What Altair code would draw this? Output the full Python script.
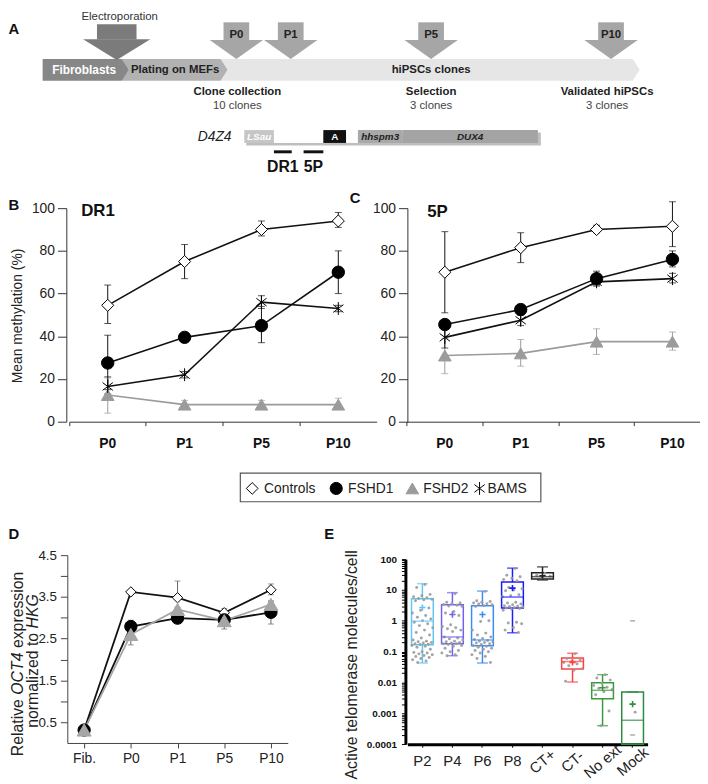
import altair as alt
import pandas as pd

FONT = "Liberation Sans"
W, H = 700, 776

# ---------------- Panel A (schematic) ----------------
stage_names = ["Fibroblasts", "Plating on MEFs", "hiPSCs clones"]
stage_start = [43, 123, 223]
stage_end = [123, 223, 640]
stage_colors = ["#878787", "#b2b2b2", "#e6e6e6"]
stage_text_colors = ["#ffffff", "#222222", "#222222"]
stage_text_x = [85, 177, 436]

passage_names = ["P0", "P1", "P5", "P10"]
passage_arrow_x = [239, 294, 436, 618]
milestone_names = ["Clone collection", "Selection", "Validated hiPSCs"]
milestone_counts = ["10 clones", "3 clones", "3 clones"]
milestone_x = [240, 436, 614]

gene_labels = ["LSau", "", "A", "", "hhspm3", "DUX4"]
gene_start = [247, 277, 327, 350, 362, 407]
gene_end = [277, 327, 350, 362, 407, 544]
gene_colors = ["#c6c6c6", "#ffffff", "#111111", "#ffffff", "#a9a9a9", "#a4a4a4"]
probe_names = ["DR1", "5P"]
probe_start = [277, 307]
probe_end = [295, 327]

# ---------------- Panels B / C : methylation ----------------
passages = ["P0", "P1", "P5", "P10"]
series = ["Controls", "FSHD1", "FSHD2", "BAMS"]

dr1_controls = [54.5, 75.0, 90.0, 94.0]
dr1_controls_lo = [46.0, 67.0, 87.0, 91.0]
dr1_controls_hi = [64.0, 83.0, 94.0, 98.0]
dr1_fshd1 = [27.5, 39.5, 45.0, 70.0]
dr1_fshd1_lo = [15.0, 38.5, 37.0, 60.0]
dr1_fshd1_hi = [40.5, 40.5, 54.0, 80.0]
dr1_fshd2 = [12.5, 8.0, 8.0, 8.0]
dr1_fshd2_lo = [4.0, 6.5, 6.5, 6.5]
dr1_fshd2_hi = [20.5, 10.0, 10.0, 11.0]
dr1_bams = [16.5, 22.0, 56.0, 53.0]
dr1_bams_lo = [13.0, 20.5, 53.0, 51.5]
dr1_bams_hi = [21.0, 23.5, 59.0, 54.5]

p5_controls = [70.0, 81.5, 90.0, 91.5]
p5_controls_lo = [51.0, 74.5, 88.5, 82.0]
p5_controls_hi = [89.0, 88.5, 92.0, 103.0]
p5_fshd1 = [45.5, 52.5, 67.0, 76.0]
p5_fshd1_lo = [44.0, 50.0, 63.5, 72.5]
p5_fshd1_hi = [47.0, 55.0, 70.5, 80.0]
p5_fshd2 = [31.0, 32.0, 37.5, 37.5]
p5_fshd2_lo = [22.5, 26.0, 31.5, 33.5]
p5_fshd2_hi = [39.0, 38.5, 43.5, 42.0]
p5_bams = [39.5, 47.5, 65.5, 67.0]
p5_bams_lo = [34.5, 45.0, 64.0, 65.0]
p5_bams_hi = [44.0, 50.0, 68.0, 69.5]

# ---------------- Panel D : OCT4 expression ----------------
stages = ["Fib.", "P0", "P1", "P5", "P10"]
d_series = ["Controls", "FSHD1", "FSHD2"]
oct_controls = [0.31, 3.62, 3.48, 3.12, 3.67]
oct_controls_lo = [0.31, 3.62, 3.48, 3.05, 3.55]
oct_controls_hi = [0.31, 3.62, 3.88, 3.22, 3.81]
oct_fshd1 = [0.31, 2.79, 2.99, 2.95, 3.13]
oct_fshd1_lo = [0.31, 2.65, 2.99, 2.80, 2.85]
oct_fshd1_hi = [0.31, 2.94, 2.99, 3.10, 3.40]
oct_fshd2 = [0.31, 2.60, 3.20, 2.93, 3.32]
oct_fshd2_lo = [0.31, 2.35, 3.10, 2.73, 3.20]
oct_fshd2_hi = [0.31, 2.75, 3.25, 3.10, 3.40]

# ---------------- Panel E : telomerase ----------------
groups = ["P2", "P4", "P6", "P8", "CT+", "CT-", "No ext", "Mock"]
group_colors = ["#62c6f7", "#6f62ee", "#3b8cf5", "#1a1aff", "#222222", "#ff4040", "#3a9a3a", "#2e8b3e"]
e_min = [0.043, 0.074, 0.043, 0.41, 21.0, 0.0104, 0.0004, 0.0001]
e_q1 = [0.167, 0.18, 0.155, 2.6, 22.5, 0.0276, 0.003, 0.0001]
e_med = [0.98, 0.30, 0.24, 5.9, 27.0, 0.048, 0.0056, 0.0006]
e_q3 = [5.2, 3.3, 3.1, 18.0, 36.0, 0.062, 0.0098, 0.0049]
e_max = [16.0, 8.2, 9.2, 51.0, 56.0, 0.089, 0.018, 0.0049]
e_mean = [2.7, 1.6, 1.6, 11.5, 29.0, 0.045, 0.0068, 0.002]

dots_p2 = [15, 12, 7.2, 6.5, 6, 5.6, 5.3, 5, 4.8, 4.5, 2.6, 2.2, 1.8, 1.5, 1.3, 1.15, 1.0, 0.9, 0.8,
           0.7, 0.6, 0.5, 0.42, 0.35, 0.28, 0.24, 0.22, 0.21, 0.2, 0.19, 0.18, 0.175, 0.17, 0.16,
           0.15, 0.14, 0.12, 0.1, 0.095, 0.09, 0.085, 0.08, 0.075, 0.07, 0.065, 0.06, 0.055, 0.05, 0.045]
dots_p4 = [7.6, 4, 3.8, 3.6, 3.4, 3.2, 3.0, 2.9, 2.0, 1.8, 1.5, 0.75, 0.65, 0.6, 0.55, 0.5, 0.45,
           0.3, 0.28, 0.26, 0.24, 0.22, 0.21, 0.2, 0.19, 0.18, 0.18, 0.17, 0.16, 0.15, 0.13, 0.11,
           0.1, 0.09, 0.08, 0.074]
dots_p6 = [9, 4.5, 4.2, 4, 3.8, 3.6, 3.5, 3.3, 3.1, 2.9, 1.0, 0.95, 0.5, 0.4, 0.35, 0.3, 0.27, 0.25,
           0.23, 0.22, 0.21, 0.2, 0.19, 0.18, 0.17, 0.16, 0.15, 0.14, 0.13, 0.12, 0.11, 0.1, 0.09,
           0.08, 0.07, 0.06, 0.045]
dots_p8 = [50, 30, 27, 24, 22, 20, 12, 11, 10, 9.5, 7, 6.5, 6, 4, 3.8, 3.5, 3.3, 3.1, 3.0, 2.9, 2.8,
           2.7, 2.6, 2.5, 2.4, 2.2, 0.9, 0.85, 0.8, 0.6, 0.5, 0.42]
dots_ctp = [35, 30, 28, 25]
dots_ctm = [0.085, 0.06, 0.055, 0.05, 0.045, 0.04, 0.035, 0.028, 0.025, 0.011]
dots_noext = [0.018, 0.014, 0.012, 0.0095, 0.008, 0.007, 0.0065, 0.006, 0.005, 0.004, 0.0012, 0.0004]
dots_mock = [0.0011]
mock_outliers = [1.0, 0.0002]

ASTERISK = "M-0.8,-0.6L0.8,0.6M-0.8,0.6L0.8,-0.6M0,-1L0,1"
PLUS = "M-1,0L1,0M0,-1L0,1"

series_shapes = ["diamond", "circle", "triangle-up", ASTERISK]
series_fill = ["#ffffff", "#000000", "#9b9b9b", "#000000"]
series_stroke = ["#000000", "#000000", "#9b9b9b", "#000000"]
series_size = [150, 170, 210, 150]
series_line_w = [1.6, 1.6, 1.6, 2.4]
series_line_color = ["#111111", "#111111", "#9b9b9b", "#111111"]

# canvas scales (reference pixel frame) for the schematic and annotations
CX = alt.Scale(domain=[0, 708], range=[-8, 700])
CY = alt.Scale(domain=[0, 784], range=[-8, 776])


def cx(f="x"):
    return alt.X(f"{f}:Q", scale=CX, axis=None)


def cy(f="y"):
    return alt.Y(f"{f}:Q", scale=CY, axis=None, stack=None)


def texts(rows, size, weight="normal", style="normal", color="#222222",
          align="center", baseline="middle", angle=None):
    df = pd.DataFrame(rows, columns=["x", "y", "t"])
    kw = dict(font=FONT, fontSize=size, fontWeight=weight, fontStyle=style,
              color=color, align=align, baseline=baseline)
    if angle is not None:
        kw["angle"] = angle
    return alt.Chart(df).mark_text(**kw).encode(x=cx(), y=cy(), text="t:N")


def arrows(centers, names, shaft_half, shaft_top, head_top, head_half, tip, color):
    shaft = pd.DataFrame({"x0": [c - shaft_half for c in centers],
                          "x1": [c + shaft_half for c in centers],
                          "y0": [shaft_top] * len(centers),
                          "y1": [head_top + 0.5] * len(centers)})
    rows = []
    for n, c in zip(names, centers):
        rows += [{"k": n, "x": c - head_half, "y": head_top, "y2": head_top},
                 {"k": n, "x": c, "y": head_top, "y2": tip},
                 {"k": n, "x": c + head_half, "y": head_top, "y2": head_top}]
    head = pd.DataFrame(rows)
    return [
        alt.Chart(shaft).mark_rect(color=color).encode(x=cx("x0"), x2="x1:Q", y=cy("y0"), y2="y1:Q"),
        alt.Chart(head).mark_area(color=color, interpolate="linear").encode(
            x=cx(), y=cy(), y2="y2:Q", detail="k:N"),
    ]


layers = []

# ---- Panel A ----
for i in [2, 1, 0]:
    x0, x1 = stage_start[i], stage_end[i]
    df = pd.DataFrame({"x": [x0, x1, x1 + 7], "y": [55, 55, 66], "y2": [77, 77, 66]})
    layers.append(alt.Chart(df).mark_area(color=stage_colors[i], interpolate="linear").encode(
        x=cx(), y=cy(), y2="y2:Q"))
layers += arrows([118], ["electro"], 20, 20, 35, 34, 56, "#7b7b7b")
layers += arrows(passage_arrow_x, passage_names, 13, 18, 36, 27, 55, "#a6a6a6")

layers.append(texts([(121, 13, "Electroporation")], 11.5, color="#333333"))
layers.append(texts([(x, 31, n) for x, n in zip(passage_arrow_x, passage_names)], 11.5, "bold"))
for i in range(3):
    layers.append(texts([(stage_text_x[i], 66.5, stage_names[i])], 12 if i == 0 else 11.5,
                        "bold", color=stage_text_colors[i]))
layers.append(texts([(x, 89, n) for x, n in zip(milestone_x, milestone_names)], 11.5, "bold"))
layers.append(texts([(x, 103, n) for x, n in zip(milestone_x, milestone_counts)], 11.5, color="#444444"))

# gene map
shadow = pd.DataFrame({"x0": [gene_start[0] + 2], "x1": [gene_end[-1] + 3], "y0": [129.5], "y1": [142.5]})
layers.append(alt.Chart(shadow).mark_rect(color="#8a8a8a", opacity=0.55).encode(
    x=cx("x0"), x2="x1:Q", y=cy("y0"), y2="y1:Q"))
gene_df = pd.DataFrame({"x0": gene_start, "x1": gene_end, "c": gene_colors,
                        "y0": [127] * len(gene_start), "y1": [140] * len(gene_start)})
layers.append(alt.Chart(gene_df).mark_rect().encode(
    x=cx("x0"), x2="x1:Q", y=cy("y0"), y2="y1:Q", color=alt.Color("c:N", scale=None)))
layers.append(texts([(217, 134, "D4Z4")], 14, style="italic"))
layers.append(texts([((gene_start[0] + gene_end[0]) / 2, 134, gene_labels[0])], 10, "bold", "italic", "#ffffff"))
layers.append(texts([((gene_start[2] + gene_end[2]) / 2, 134, gene_labels[2])], 10, "bold", color="#ffffff"))
layers.append(texts([((gene_start[4] + gene_end[4]) / 2, 134, gene_labels[4]),
                     ((gene_start[5] + gene_end[5]) / 2, 134, gene_labels[5])], 10, "bold", "italic"))
probe_df = pd.DataFrame({"x0": probe_start, "x1": probe_end, "y0": [147.5, 147.5], "y1": [150.5, 150.5]})
layers.append(alt.Chart(probe_df).mark_rect(color="#111111").encode(
    x=cx("x0"), x2="x1:Q", y=cy("y0"), y2="y1:Q"))
layers.append(texts([((s + e) / 2, 164, n) for s, e, n in zip(probe_start, probe_end, probe_names)],
                    16, "bold", color="#111111"))


# ---- Panels B / C ----
def meth_layers(vals, lo, hi, x_range, y_axis_x):
    rows = []
    for s in series:
        for i, p in enumerate(passages):
            rows.append({"series": s, "passage": p, "v": vals[s][i], "lo": lo[s][i], "hi": hi[s][i]})
    df = pd.DataFrame(rows)
    xs = alt.Scale(type="band", domain=passages, range=x_range, paddingInner=0, paddingOuter=0)
    ys = alt.Scale(domain=[0, 100], range=[414, 198], nice=False)
    ax_y = alt.Axis(orient="left", offset=-y_axis_x, values=[0, 20, 40, 60, 80, 100], tickSize=9,
                    tickColor="#333333", domainColor="#333333", labelFontSize=14, labelColor="#222222",
                    labelPadding=3, title=None, grid=False, labelFont=FONT)
    ax_xt = alt.Axis(orient="bottom", offset=414 - H, bandPosition=0, labels=False, tickSize=4,
                     tickColor="#333333", domainColor="#333333", title=None, grid=False)
    ax_xl = alt.Axis(orient="bottom", offset=414 - H, ticks=False, domain=False, labelAngle=0,
                     labelFontWeight="bold", labelFontSize=14, labelPadding=15, labelColor="#111111",
                     title=None, grid=False, labelFont=FONT)
    stroke_sc = alt.Scale(domain=series, range=series_line_color)
    base = alt.Chart(df)
    rules = base.mark_rule(strokeWidth=1).encode(
        x=alt.X("passage:N", scale=xs, axis=ax_xt),
        y=alt.Y("lo:Q", scale=ys, axis=ax_y), y2="hi:Q",
        color=alt.Color("series:N", scale=stroke_sc, legend=None))
    caps = base.transform_fold(["lo", "hi"], as_=["k", "e"]).mark_tick(size=7, thickness=1).encode(
        x=alt.X("passage:N", scale=xs, axis=None),
        y=alt.Y("e:Q", scale=ys, axis=None),
        color=alt.Color("series:N", scale=stroke_sc, legend=None))
    lines = base.mark_line().encode(
        x=alt.X("passage:N", scale=xs, axis=None),
        y=alt.Y("v:Q", scale=ys, axis=None),
        color=alt.Color("series:N", scale=stroke_sc, legend=None),
        strokeWidth=alt.StrokeWidth("series:N", scale=alt.Scale(domain=series, range=series_line_w), legend=None))
    pts = base.mark_point(filled=True, opacity=1, strokeWidth=1).encode(
        x=alt.X("passage:N", scale=xs, axis=ax_xl),
        y=alt.Y("v:Q", scale=ys, axis=None),
        shape=alt.Shape("series:N", scale=alt.Scale(domain=series, range=series_shapes), legend=None),
        fill=alt.Fill("series:N", scale=alt.Scale(domain=series, range=series_fill), legend=None),
        stroke=alt.Stroke("series:N", scale=alt.Scale(domain=series, range=series_stroke), legend=None),
        size=alt.Size("series:N", scale=alt.Scale(domain=series, range=series_size), legend=None))
    return [rules, caps, lines, pts]


dr1_vals = {"Controls": dr1_controls, "FSHD1": dr1_fshd1, "FSHD2": dr1_fshd2, "BAMS": dr1_bams}
dr1_lo = {"Controls": dr1_controls_lo, "FSHD1": dr1_fshd1_lo, "FSHD2": dr1_fshd2_lo, "BAMS": dr1_bams_lo}
dr1_hi = {"Controls": dr1_controls_hi, "FSHD1": dr1_fshd1_hi, "FSHD2": dr1_fshd2_hi, "BAMS": dr1_bams_hi}
p5_vals = {"Controls": p5_controls, "FSHD1": p5_fshd1, "FSHD2": p5_fshd2, "BAMS": p5_bams}
p5_lo = {"Controls": p5_controls_lo, "FSHD1": p5_fshd1_lo, "FSHD2": p5_fshd2_lo, "BAMS": p5_bams_lo}
p5_hi = {"Controls": p5_controls_hi, "FSHD1": p5_fshd1_hi, "FSHD2": p5_fshd2_hi, "BAMS": p5_bams_hi}

layers += meth_layers(dr1_vals, dr1_lo, dr1_hi, [62, 373], 59)
layers += meth_layers(p5_vals, p5_lo, p5_hi, [403.5, 710.5], 404)
layers.append(texts([(82, 209, "DR1")], 17, "bold", color="#111111", align="left"))
layers.append(texts([(432, 210, "5P")], 17, "bold", color="#111111", align="left"))
layers.append(texts([(18, 315, "Mean methylation (%)")], 14, angle=270))

# legend
box = pd.DataFrame({"x0": [243], "x1": [547], "y0": [474], "y1": [503]})
layers.append(alt.Chart(box).mark_rect(fill="#ffffff", stroke="#555555", strokeWidth=1.2).encode(
    x=cx("x0"), x2="x1:Q", y=cy("y0"), y2="y1:Q"))
leg_marker_x = [255, 340, 417, 485]
leg_text_x = [267, 352, 428, 493]
leg_df = pd.DataFrame({"series": series, "x": leg_marker_x, "y": [489.5] * 4})
layers.append(alt.Chart(leg_df).mark_point(filled=True, opacity=1, strokeWidth=1).encode(
    x=cx(), y=cy(),
    shape=alt.Shape("series:N", scale=alt.Scale(domain=series, range=series_shapes), legend=None),
    fill=alt.Fill("series:N", scale=alt.Scale(domain=series, range=series_fill), legend=None),
    stroke=alt.Stroke("series:N", scale=alt.Scale(domain=series, range=series_stroke), legend=None),
    size=alt.Size("series:N", scale=alt.Scale(domain=series, range=[140, 170, 230, 45]), legend=None)))
layers.append(texts([(x, 490, s) for x, s in zip(leg_text_x, series)], 14, align="left", color="#222222"))


# ---- Panel D ----
def oct_layers():
    vals = {"Controls": oct_controls, "FSHD1": oct_fshd1, "FSHD2": oct_fshd2}
    lo = {"Controls": oct_controls_lo, "FSHD1": oct_fshd1_lo, "FSHD2": oct_fshd2_lo}
    hi = {"Controls": oct_controls_hi, "FSHD1": oct_fshd1_hi, "FSHD2": oct_fshd2_hi}
    rows = []
    for s in d_series:
        for i, st in enumerate(stages):
            rows.append({"series": s, "stage": st, "v": vals[s][i], "lo": lo[s][i], "hi": hi[s][i]})
    df = pd.DataFrame(rows)
    xs = alt.Scale(type="point", domain=stages, range=[60, 283], padding=0.36)
    ys = alt.Scale(domain=[0, 4.5], range=[739, 549], nice=False)
    ax_y = alt.Axis(orient="left", offset=-60, values=[0.5, 1, 1.5, 2, 2.5, 3, 3.5, 4, 4.5],
                    labelExpr="datum.value % 1 == 0 ? '' : format(datum.value, '.1f')",
                    tickSize=7, tickColor="#444444", domainColor="#444444", labelFontSize=13.5,
                    labelColor="#222222", labelPadding=4, labelOverlap=False, title=None, grid=False,
                    labelFont=FONT)
    ax_x = alt.Axis(orient="bottom", offset=739 - H, tickSize=5, tickColor="#444444",
                    domainColor="#444444", labelFontSize=14, labelColor="#222222", labelPadding=4,
                    labelAngle=0, title=None, grid=False, labelFont=FONT)
    col = alt.Scale(domain=d_series, range=["#111111", "#111111", "#a6a6a6"])
    base = alt.Chart(df)
    rules = base.mark_rule(strokeWidth=1, color="#666666").encode(
        x=alt.X("stage:N", scale=xs, axis=ax_x),
        y=alt.Y("lo:Q", scale=ys, axis=ax_y), y2="hi:Q")
    caps = base.transform_fold(["lo", "hi"], as_=["k", "e"]).mark_tick(size=6, thickness=1, color="#666666").encode(
        x=alt.X("stage:N", scale=xs, axis=None), y=alt.Y("e:Q", scale=ys, axis=None))
    lines = base.mark_line().encode(
        x=alt.X("stage:N", scale=xs, axis=None), y=alt.Y("v:Q", scale=ys, axis=None),
        color=alt.Color("series:N", scale=col, legend=None),
        strokeWidth=alt.StrokeWidth("series:N", scale=alt.Scale(domain=d_series, range=[1.8, 1.8, 2.6]), legend=None))
    pts = base.mark_point(filled=True, opacity=1, strokeWidth=1).encode(
        x=alt.X("stage:N", scale=xs, axis=None), y=alt.Y("v:Q", scale=ys, axis=None),
        shape=alt.Shape("series:N", scale=alt.Scale(domain=d_series, range=["diamond", "circle", "triangle-up"]), legend=None),
        fill=alt.Fill("series:N", scale=alt.Scale(domain=d_series, range=["#ffffff", "#000000", "#a6a6a6"]), legend=None),
        stroke=alt.Stroke("series:N", scale=alt.Scale(domain=d_series, range=["#000000", "#000000", "#a6a6a6"]), legend=None),
        size=alt.Size("series:N", scale=alt.Scale(domain=d_series, range=[110, 200, 110]), legend=None))
    return [rules, caps, lines, pts]


layers += oct_layers()

# D y title with italic gene names (two rotated lines)
CW = {" ": 278, "R": 722, "e": 556, "l": 222, "a": 556, "t": 278, "i": 222, "v": 500, "O": 778,
      "C": 722, "T": 611, "4": 556, "x": 500, "p": 556, "r": 333, "s": 500, "o": 556, "n": 556,
      "m": 833, "z": 500, "d": 556, "H": 722, "K": 667, "G": 778}


def rich_vertical(pieces, x, yc, size):
    total = sum(CW.get(ch, 556) for t, _ in pieces for ch in t) * size / 1000
    y = yc + total / 2
    out = []
    for t, it in pieces:
        w = sum(CW.get(ch, 556) for ch in t) * size / 1000
        if t.strip():
            out.append(texts([(x, y, t)], size, style="italic" if it else "normal",
                             align="left", angle=270, color="#222222"))
        y -= w
    return out


layers += rich_vertical([("Relative", False), (" ", False), ("OCT4", True), (" ", False),
                         ("expression", False)], 18, 667, 16)
layers += rich_vertical([("normalized to", False), (" ", False), ("HKG", True)], 33, 664, 16)


# ---- Panel E ----
def telo_layers():
    st = pd.DataFrame({"grp": groups, "mn": e_min, "q1": e_q1, "med": e_med, "q3": e_q3,
                       "mx": e_max, "mean": e_mean})
    dot_lists = [dots_p2, dots_p4, dots_p6, dots_p8, dots_ctp, dots_ctm, dots_noext, dots_mock]
    drows = [{"grp": g, "v": v} for g, lst in zip(groups, dot_lists) for v in lst]
    dots = pd.DataFrame(drows)
    outl = pd.DataFrame({"grp": ["Mock"] * len(mock_outliers), "v": mock_outliers})
    xs = alt.Scale(type="band", domain=groups, range=[404, 647], paddingInner=0, paddingOuter=0)
    ys = alt.Scale(type="log", domain=[0.0001, 100], range=[740.3, 553], nice=False)
    col = alt.Scale(domain=groups, range=group_colors)
    yticks = [m * 10.0 ** e for e in range(-4, 2) for m in range(1, 10)] + [100.0]
    ax_y = alt.Axis(orient="left", offset=-402, values=yticks,
                    labelExpr="abs(log(datum.value)/LN10 - round(log(datum.value)/LN10)) < 0.001 ? format(datum.value, '~g') : ''",
                    tickSize=4, tickColor="#000000", domainColor="#000000", domainWidth=3,
                    labelFontSize=10, labelFontWeight="bold", labelColor="#111111", labelPadding=5,
                    labelOverlap=False, title=None, grid=False, labelFont=FONT)
    ax_x1 = alt.Axis(orient="bottom", offset=740.3 - H, domainWidth=3, domainColor="#000000",
                     tickSize=3, tickColor="#000000", labelAngle=0, labelFontSize=15,
                     labelColor="#222222", labelPadding=6, labelOverlap=False,
                     labelExpr="indexof(['P2','P4','P6','P8'], datum.value) >= 0 ? datum.value : ''",
                     title=None, grid=False, labelFont=FONT)
    ax_x2 = alt.Axis(orient="bottom", offset=740.3 - H, domain=False, ticks=False, labelAngle=320,
                     labelAlign="center", labelBaseline="middle", labelFontSize=15,
                     labelColor="#222222", labelPadding=17, labelOverlap=False,
                     labelExpr="indexof(['P2','P4','P6','P8'], datum.value) >= 0 ? '' : datum.value",
                     title=None, grid=False, labelFont=FONT)
    b = alt.Chart(st)
    X = lambda ax=None: alt.X("grp:N", scale=xs, axis=ax)
    box = b.mark_bar(size=22, fillOpacity=0, strokeWidth=1.5).encode(
        x=X(ax_x1), y=alt.Y("q1:Q", scale=ys, axis=ax_y), y2="q3:Q",
        stroke=alt.Stroke("grp:N", scale=col, legend=None))
    wlo = b.mark_rule(strokeWidth=1.5).encode(
        x=X(), y=alt.Y("mn:Q", scale=ys, axis=None), y2="q1:Q",
        color=alt.Color("grp:N", scale=col, legend=None))
    whi = b.mark_rule(strokeWidth=1.5).encode(
        x=X(), y=alt.Y("q3:Q", scale=ys, axis=None), y2="mx:Q",
        color=alt.Color("grp:N", scale=col, legend=None))
    caps = b.transform_fold(["mn", "mx"], as_=["k", "e"]).mark_tick(size=11, thickness=1.5).encode(
        x=X(), y=alt.Y("e:Q", scale=ys, axis=None), color=alt.Color("grp:N", scale=col, legend=None))
    dot = alt.Chart(dots).transform_window(rn="row_number()", groupby=["grp"]).transform_calculate(
        xp="indexof(['P2','P4','P6','P8','CT+','CT-','No ext','Mock'], datum.grp) + ((datum.rn * 0.618034) % 1 - 0.5) * 0.72"
    ).mark_circle(size=9, color="#9a9a9a", opacity=0.9).encode(
        x=alt.X("xp:Q", scale=alt.Scale(domain=[-0.5, 7.5], range=[404, 647]), axis=None),
        y=alt.Y("v:Q", scale=ys, axis=None))
    outs = alt.Chart(outl).mark_tick(size=5, thickness=1.5, color="#8a8a8a").encode(
        x=X(), y=alt.Y("v:Q", scale=ys, axis=None))
    med = b.mark_tick(size=22, thickness=1.5).encode(
        x=X(ax_x2), y=alt.Y("med:Q", scale=ys, axis=None),
        color=alt.Color("grp:N", scale=col, legend=None))
    mean = b.mark_point(shape=PLUS, filled=False, size=40, strokeWidth=1.6, opacity=1).encode(
        x=X(), y=alt.Y("mean:Q", scale=ys, axis=None),
        stroke=alt.Stroke("grp:N", scale=col, legend=None))
    return [box, wlo, whi, caps, dot, outs, med, mean]


layers += telo_layers()
layers.append(texts([(356, 668, "Active telomerase molecules/cell")], 16, angle=270, color="#222222"))

# panel letters
layers.append(texts([(14, 25, "A"), (14, 203, "B"), (359, 196, "C"), (14, 536, "D"), (333, 536, "E")],
                    15, "bold", color="#111111"))

chart = alt.layer(*layers).resolve_scale(
    x="independent", y="independent", color="independent", fill="independent",
    stroke="independent", shape="independent", size="independent", strokeWidth="independent"
).properties(
    width=W, height=H, padding=0, background="white",
    autosize=alt.AutoSizeParams(type="none")
).configure_view(stroke=None).configure_axis(labelFont=FONT, titleFont=FONT)

chart.save("out.html", embed_options={"renderer": "svg", "actions": False})
